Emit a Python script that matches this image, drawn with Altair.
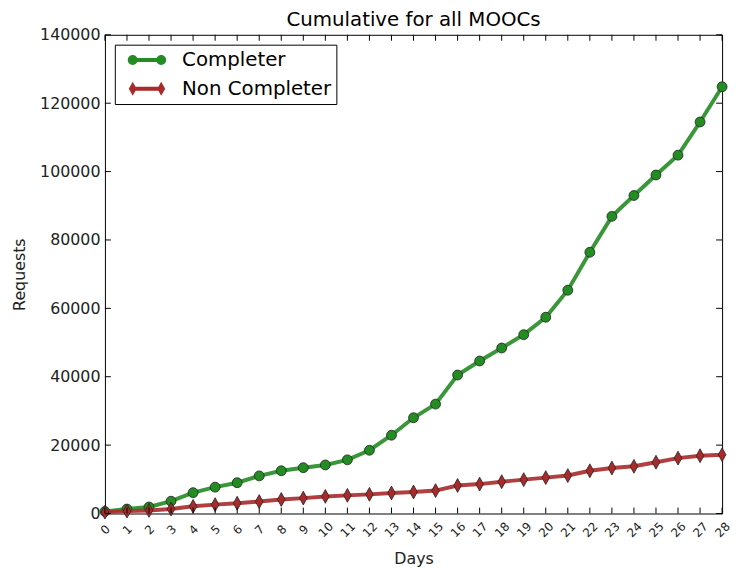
import altair as alt
import pandas as pd

days = list(range(29))
completer = [600, 1300, 1900, 3600, 6100, 7700, 9000, 11000, 12500, 13400, 14200,
             15700, 18500, 22900, 28000, 32000, 40500, 44600, 48400, 52300, 57400,
             65300, 76400, 86900, 93000, 99000, 104800, 114500, 124800]
non_completer = [400, 700, 900, 1300, 2100, 2600, 3000, 3500, 4100, 4500, 5000,
                 5300, 5600, 6000, 6300, 6700, 8200, 8600, 9300, 9900, 10500,
                 11100, 12500, 13300, 13800, 15000, 16200, 16900, 17200]
series_names = ["Completer", "Non Completer"]
y_ticks = [0, 20000, 40000, 60000, 80000, 100000, 120000, 140000]

df = pd.DataFrame({
    "day": days + days,
    "requests": completer + non_completer,
    "series": [series_names[0]] * len(days) + [series_names[1]] * len(days),
})
xt = pd.DataFrame({"day": days})
yt = pd.DataFrame({"requests": y_ticks})

GREEN = "#238c23"
RED = "#a82a2a"
FONT = "DejaVu Sans"
THIN_DIAMOND = "M0,-1L0.55,0L0,1L-0.55,0Z"

LEG_GREEN = ("M-1.44,-0.2L1.44,-0.2L1.44,0.2L-1.44,0.2Z "
             "M-0.94,0A0.5,0.5 0 1,1 -1.94,0A0.5,0.5 0 1,1 -0.94,0Z "
             "M1.94,0A0.5,0.5 0 1,1 0.94,0A0.5,0.5 0 1,1 1.94,0Z")
LEG_RED = ("M-1.44,-0.2L1.44,-0.2L1.44,0.2L-1.44,0.2Z "
           "M-1.44,-0.7L-1.04,0L-1.44,0.7L-1.84,0Z "
           "M1.44,-0.7L1.84,0L1.44,0.7L1.04,0Z")

x_scale = alt.Scale(domain=[0, 28], nice=False, zero=False)
y_scale = alt.Scale(domain=[0, 140000], nice=False)
color_scale = alt.Scale(domain=series_names, range=[GREEN, RED])
shape_scale = alt.Scale(domain=series_names, range=[LEG_GREEN, LEG_RED])

legend = alt.Legend(
    title=None, orient="top-left", offset=10,
    strokeColor="black", fillColor="white", padding=5, cornerRadius=0,
    labelFontSize=20, labelFont=FONT, labelColor="black", labelOffset=25,
    symbolSize=400, symbolOffset=17, rowPadding=8, symbolOpacity=1,
    symbolStrokeColor="#222222", symbolStrokeWidth=0.6,
)

x_axis = alt.Axis(values=days, title="Days", labelAngle=-45, labelAlign="center",
                  labelBaseline="middle", labelFontSize=12, labelPadding=16,
                  labelFlush=False, labelOverlap=False, titleFontSize=16,
                  titleY=38, titleBaseline="top", grid=False, ticks=False,
                  domain=False, titleFontWeight="normal", labelFont=FONT,
                  titleFont=FONT, labelColor="#222222", titleColor="#222222")
y_axis = alt.Axis(values=y_ticks, title="Requests", format="d", labelFontSize=16,
                  labelPadding=5, titleFontSize=16, titlePadding=12, grid=False,
                  ticks=False, domain=False, titleFontWeight="normal",
                  labelFont=FONT, titleFont=FONT, labelColor="#222222",
                  titleColor="#222222")

X = alt.X("day:Q", scale=x_scale, axis=x_axis)
Y = alt.Y("requests:Q", scale=y_scale, axis=y_axis)

layers = []
for name, col, shape, size in [(series_names[0], GREEN, "circle", 100),
                               (series_names[1], RED, THIN_DIAMOND, 196)]:
    base = alt.Chart(df).transform_filter(alt.datum.series == name)
    layers.append(base.mark_line(strokeWidth=4, opacity=0.9, color=col).encode(x=X, y=Y))
    layers.append(base.mark_point(filled=True, shape=shape, size=size, stroke="#222222",
                                  strokeWidth=0.8, opacity=1, fillOpacity=1, color=col)
                  .encode(x=X, y=Y))

# invisible layer that only carries the legend
layers.append(alt.Chart(df).transform_filter(alt.datum.day == 0).mark_point(
    filled=True, opacity=0, size=1, stroke="#222222", strokeWidth=0.6).encode(
    x=X, y=Y,
    color=alt.Color("series:N", scale=color_scale, legend=legend),
    shape=alt.Shape("series:N", scale=shape_scale, legend=legend),
))

tick_color = "black"
layers.append(alt.Chart(yt).mark_rule(color=tick_color, strokeWidth=1).encode(
    y=alt.Y("requests:Q", scale=y_scale, axis=y_axis), x=alt.value(0), x2=alt.value(6)))
layers.append(alt.Chart(yt).mark_rule(color=tick_color, strokeWidth=1).encode(
    y=alt.Y("requests:Q", scale=y_scale, axis=y_axis), x=alt.value(618), x2=alt.value(624)))
layers.append(alt.Chart(xt).mark_rule(color=tick_color, strokeWidth=1).encode(
    x=alt.X("day:Q", scale=x_scale, axis=x_axis), y=alt.value(478), y2=alt.value(484)))
layers.append(alt.Chart(xt).mark_rule(color=tick_color, strokeWidth=1).encode(
    x=alt.X("day:Q", scale=x_scale, axis=x_axis), y=alt.value(0), y2=alt.value(6)))

chart = alt.layer(*layers).properties(
    width=624, height=484,
    title=alt.TitleParams("Cumulative for all MOOCs", fontSize=20, font=FONT,
                          fontWeight="normal", color="black", offset=6, dy=9,
                          anchor="middle", frame="group"),
    padding={"left": 98, "top": 24, "right": 9, "bottom": 52},
    autosize=alt.AutoSizeParams(type="none"),
    background="white",
).configure_view(stroke="black", strokeWidth=1).configure_axis(
    domain=False, ticks=False, grid=False, labelFont=FONT, titleFont=FONT,
    labelColor="#222222", titleColor="#222222", titleFontWeight="normal",
)

chart.save("out.html", embed_options={"renderer": "svg", "actions": False})
